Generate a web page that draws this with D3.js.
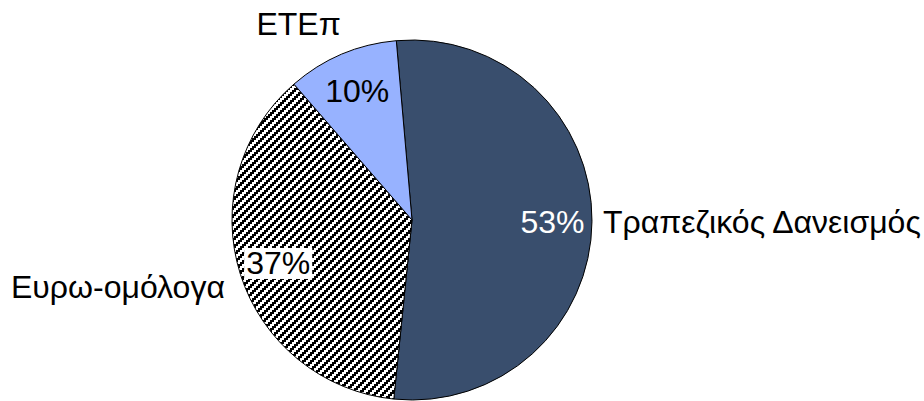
<!DOCTYPE html>
<html>
<head>
<meta charset="utf-8">
<script src="https://cdn.jsdelivr.net/npm/d3@7"></script>
<style>
  body { margin: 0; background: #fff; }
  svg { display: block; font-family: "Liberation Sans", Arial, sans-serif; }
</style>
</head>
<body>
<svg id="chart" width="924" height="401"></svg>
<script>
const categories = ["Τραπεζικός Δανεισμός", "Ευρω-ομόλογα", "ΕΤΕπ"];
const values = [53, 37, 10];
const valueLabels = ["53%", "37%", "10%"];

const width = 924, height = 401;
const cx = 412, cy = 220, radius = 180;
const fontSize = 32;

const svg = d3.select("#chart");

// stair-stepped upward diagonal, 2x2 pixel blocks in an 8x8 tile
const defs = svg.append("defs");
const pat = defs.append("pattern")
  .attr("id", "hatch")
  .attr("patternUnits", "userSpaceOnUse")
  .attr("width", 8)
  .attr("height", 8);
pat.append("rect").attr("width", 8).attr("height", 8).attr("fill", "#fff");
const blocks = [];
for (let yb = 0; yb < 4; yb++) {
  for (let k = 0; k < 2; k++) {
    blocks.push({ x: ((3 - yb + k) % 4) * 2, y: yb * 2 });
  }
}
pat.selectAll("rect.b")
  .data(blocks)
  .join("rect")
  .attr("class", "b")
  .attr("x", (d) => d.x)
  .attr("y", (d) => d.y)
  .attr("width", 2)
  .attr("height", 2)
  .attr("fill", "#000")
  .attr("shape-rendering", "crispEdges");

const fills = ["#394e6d", "url(#hatch)", "#97b2ff"];
const valueColors = ["#fff", "#000", "#000"];

const pie = d3.pie()
  .sort(null)
  .startAngle(-5 * Math.PI / 180)
  .endAngle(2 * Math.PI - 5 * Math.PI / 180);
const arcs = pie(values);

const arc = d3.arc().innerRadius(0).outerRadius(radius);
const labelArc = d3.arc().innerRadius(radius * 0.78).outerRadius(radius * 0.78);
const outerArc = d3.arc().innerRadius(radius + 10).outerRadius(radius + 10);

const g = svg.append("g").attr("transform", `translate(${cx},${cy})`);

g.selectAll("path.slice")
  .data(arcs)
  .join("path")
  .attr("class", "slice")
  .attr("d", arc)
  .attr("fill", (d, i) => fills[i])
  .attr("stroke", "#000")
  .attr("stroke-width", 1);

// value labels (37% sits on a white box)
const vl = g.selectAll("g.vlabel")
  .data(arcs)
  .join("g")
  .attr("class", "vlabel")
  .attr("transform", (d) => `translate(${labelArc.centroid(d)})`);

vl.each(function (d, i) {
  const sel = d3.select(this);
  const t = sel.append("text")
    .attr("text-anchor", "middle")
    .attr("dy", "0.36em")
    .attr("font-size", fontSize)
    .attr("fill", valueColors[i])
    .text(valueLabels[i]);
  if (i === 1) {
    const b = t.node().getBBox();
    sel.insert("rect", "text")
      .attr("x", b.x - 2)
      .attr("y", b.y + 3)
      .attr("width", b.width + 4)
      .attr("height", b.height - 5)
      .attr("fill", "#fff");
  }
});

// category labels, outside the pie
const catNudge = [
  { anchor: "start", dx: 1, dy: 12 },
  { anchor: "end", dx: -6, dy: 21 },
  { anchor: "end", dx: 3, dy: -10 },
];

g.selectAll("text.cat")
  .data(arcs)
  .join("text")
  .attr("class", "cat")
  .attr("x", (d, i) => outerArc.centroid(d)[0] + catNudge[i].dx)
  .attr("y", (d, i) => outerArc.centroid(d)[1] + catNudge[i].dy)
  .attr("text-anchor", (d, i) => catNudge[i].anchor)
  .attr("font-size", fontSize)
  .attr("fill", "#000")
  .text((d, i) => categories[i]);
</script>
</body>
</html>
